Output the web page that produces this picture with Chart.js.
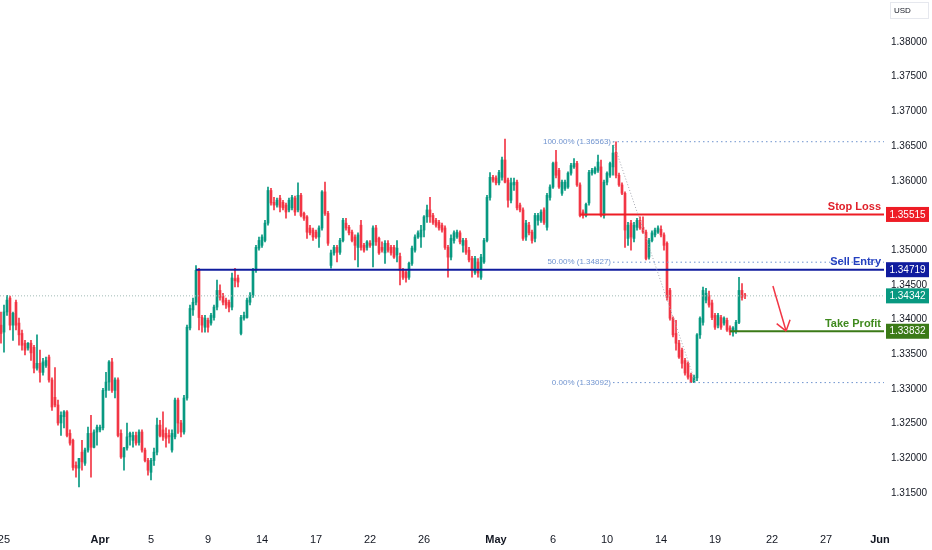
<!DOCTYPE html>
<html>
<head>
<meta charset="utf-8">
<title>Price chart</title>
<script src="https://cdn.jsdelivr.net/npm/chart.js@4"></script>
<style>
  html, body { margin: 0; padding: 0; background: #ffffff; }
  #wrap { width: 932px; height: 550px; }
</style>
</head>
<body>
<div id="wrap"><canvas id="priceChart" width="932" height="550"></canvas></div>
<script>
// ===== 4H candles =====

const opens = [
  1.3392,1.3382,1.3411,1.3431,1.3392,1.3425,1.3395,1.3380,1.3366,1.3359,
  1.3366,1.3360,1.3330,1.3337,1.3324,1.3334,1.3346,1.3313,1.3288,1.3277,
  1.3251,1.3260,1.3267,1.3236,1.3226,1.3190,1.3186,1.3209,1.3193,1.3212,
  1.3236,1.3216,1.3238,1.3241,1.3244,1.3298,1.3310,1.3339,1.3298,1.3313,
  1.3236,1.3202,1.3215,1.3231,1.3226,1.3233,1.3223,1.3238,1.3212,1.3197,
  1.3180,1.3197,1.3209,1.3248,1.3241,1.3236,1.3233,1.3212,1.3231,1.3284,
  1.3251,1.3238,1.3287,1.3388,1.3414,1.3425,1.3471,1.3403,1.3389,1.3399,
  1.3395,1.3403,1.3418,1.3442,1.3434,1.3428,1.3425,1.3418,1.3459,1.3460,
  1.3380,1.3402,1.3403,1.3425,1.3435,1.3471,1.3503,1.3507,1.3514,1.3539,
  1.3586,1.3569,1.3565,1.3575,1.3569,1.3565,1.3558,1.3561,1.3575,1.3558,
  1.3579,1.3553,1.3548,1.3532,1.3529,1.3526,1.3519,1.3532,1.3584,1.3553,
  1.3478,1.3496,1.3504,1.3497,1.3514,1.3539,1.3533,1.3526,1.3519,1.3504,
  1.3536,1.3507,1.3504,1.3510,1.3507,1.3532,1.3517,1.3504,1.3496,1.3510,
  1.3504,1.3504,1.3493,1.3491,1.3471,1.3468,1.3461,1.3481,1.3500,1.3519,
  1.3519,1.3529,1.3548,1.3558,1.3550,1.3543,1.3540,1.3536,1.3532,1.3504,
  1.3490,1.3514,1.3519,1.3525,1.3507,1.3514,1.3500,1.3488,1.3468,1.3483,
  1.3461,1.3483,1.3514,1.3576,1.3605,1.3604,1.3597,1.3605,1.3630,1.3601,
  1.3572,1.3594,1.3598,1.3565,1.3558,1.3519,1.3536,1.3526,1.3517,1.3543,
  1.3543,1.3558,1.3533,1.3576,1.3591,1.3627,1.3615,1.3582,1.3589,1.3591,
  1.3611,1.3620,1.3625,1.3594,1.3555,1.3550,1.3568,1.3611,1.3612,1.3615,
  1.3620,1.3550,1.3598,1.3608,1.3620,1.3641,1.3608,1.3594,1.3582,1.3517,
  1.3539,1.3517,1.3533,1.3543,1.3533,1.3526,1.3490,1.3514,1.3522,1.3526,
  1.3530,1.3522,1.3510,1.3442,1.3402,1.3380,1.3366,1.3356,1.3341,1.3337,
  1.3320,1.3310,1.3316,1.3378,1.3396,1.3428,1.3435,1.3424,1.3406,1.3392,
  1.3403,1.3395,1.3399,1.3388,1.3382,1.3383,1.3396,1.3442,1.3435
];
const highs = [
  1.3411,1.3421,1.3435,1.3434,1.3411,1.3428,1.3402,1.3385,1.3370,1.3367,
  1.3370,1.3363,1.3378,1.3356,1.3344,1.3346,1.3349,1.3316,1.3331,1.3284,
  1.3267,1.3269,1.3269,1.3241,1.3228,1.3195,1.3200,1.3226,1.3215,1.3245,
  1.3262,1.3241,1.3248,1.3248,1.3301,1.3324,1.3341,1.3344,1.3316,1.3316,
  1.3241,1.3216,1.3251,1.3238,1.3238,1.3238,1.3241,1.3241,1.3215,1.3200,
  1.3200,1.3215,1.3258,1.3255,1.3267,1.3244,1.3241,1.3241,1.3287,1.3287,
  1.3255,1.3291,1.3392,1.3421,1.3431,1.3478,1.3474,1.3406,1.3406,1.3402,
  1.3409,1.3421,1.3457,1.3450,1.3438,1.3431,1.3428,1.3467,1.3474,1.3464,
  1.3406,1.3411,1.3431,1.3439,1.3474,1.3507,1.3519,1.3522,1.3543,1.3591,
  1.3589,1.3576,1.3575,1.3579,1.3572,1.3568,1.3575,1.3579,1.3578,1.3597,
  1.3582,1.3555,1.3550,1.3536,1.3532,1.3529,1.3535,1.3586,1.3598,1.3556,
  1.3500,1.3507,1.3507,1.3517,1.3546,1.3546,1.3536,1.3529,1.3522,1.3525,
  1.3543,1.3510,1.3514,1.3514,1.3535,1.3536,1.3519,1.3512,1.3514,1.3514,
  1.3507,1.3507,1.3514,1.3496,1.3474,1.3471,1.3483,1.3506,1.3522,1.3528,
  1.3536,1.3550,1.3565,1.3576,1.3553,1.3546,1.3543,1.3539,1.3535,1.3507,
  1.3522,1.3528,1.3529,1.3528,1.3517,1.3517,1.3504,1.3491,1.3491,1.3488,
  1.3494,1.3517,1.3579,1.3612,1.3608,1.3607,1.3615,1.3634,1.3660,1.3604,
  1.3604,1.3604,1.3601,1.3568,1.3561,1.3543,1.3540,1.3529,1.3553,1.3553,
  1.3558,1.3561,1.3582,1.3594,1.3627,1.3644,1.3618,1.3601,1.3601,1.3613,
  1.3625,1.3632,1.3628,1.3597,1.3558,1.3568,1.3615,1.3618,1.3620,1.3637,
  1.3630,1.3601,1.3613,1.3627,1.3651,1.3656,1.3611,1.3597,1.3584,1.3540,
  1.3543,1.3540,1.3546,1.3548,1.3548,1.3529,1.3517,1.3528,1.3532,1.3535,
  1.3535,1.3525,1.3512,1.3445,1.3404,1.3399,1.3370,1.3359,1.3344,1.3339,
  1.3323,1.3320,1.3380,1.3404,1.3447,1.3445,1.3441,1.3428,1.3409,1.3409,
  1.3406,1.3404,1.3402,1.3391,1.3390,1.3399,1.3461,1.3452,1.3438
];
const lows = [
  1.3366,1.3353,1.3406,1.3385,1.3370,1.3385,1.3363,1.3356,1.3349,1.3356,
  1.3341,1.3323,1.3327,1.3310,1.3320,1.3331,1.3310,1.3269,1.3274,1.3248,
  1.3233,1.3244,1.3231,1.3219,1.3183,1.3173,1.3159,1.3183,1.3190,1.3209,
  1.3173,1.3215,1.3219,1.3238,1.3241,1.3288,1.3298,1.3295,1.3287,1.3231,
  1.3200,1.3183,1.3212,1.3219,1.3216,1.3219,1.3219,1.3209,1.3195,1.3176,
  1.3169,1.3190,1.3205,1.3231,1.3226,1.3216,1.3222,1.3209,1.3228,1.3236,
  1.3231,1.3235,1.3284,1.3385,1.3406,1.3421,1.3385,1.3382,1.3382,1.3382,
  1.3392,1.3399,1.3414,1.3428,1.3421,1.3416,1.3411,1.3414,1.3447,1.3447,
  1.3378,1.3399,1.3402,1.3421,1.3432,1.3468,1.3500,1.3504,1.3512,1.3536,
  1.3565,1.3558,1.3562,1.3555,1.3558,1.3546,1.3555,1.3558,1.3550,1.3555,
  1.3548,1.3543,1.3517,1.3522,1.3514,1.3517,1.3504,1.3529,1.3550,1.3507,
  1.3474,1.3493,1.3483,1.3494,1.3512,1.3529,1.3522,1.3512,1.3486,1.3476,
  1.3500,1.3497,1.3500,1.3504,1.3476,1.3507,1.3494,1.3497,1.3481,1.3497,
  1.3493,1.3488,1.3483,1.3450,1.3458,1.3454,1.3458,1.3478,1.3497,1.3517,
  1.3504,1.3519,1.3540,1.3540,1.3537,1.3533,1.3529,1.3526,1.3501,1.3461,
  1.3486,1.3510,1.3517,1.3509,1.3497,1.3494,1.3483,1.3461,1.3465,1.3461,
  1.3458,1.3481,1.3512,1.3572,1.3598,1.3594,1.3594,1.3601,1.3597,1.3562,
  1.3568,1.3586,1.3558,1.3555,1.3514,1.3514,1.3522,1.3510,1.3512,1.3536,
  1.3540,1.3537,1.3529,1.3572,1.3589,1.3604,1.3589,1.3579,1.3586,1.3589,
  1.3608,1.3618,1.3592,1.3548,1.3546,1.3548,1.3565,1.3608,1.3610,1.3612,
  1.3548,1.3546,1.3594,1.3605,1.3608,1.3604,1.3592,1.3580,1.3504,1.3507,
  1.3500,1.3512,1.3529,1.3530,1.3524,1.3486,1.3487,1.3512,1.3519,1.3524,
  1.3519,1.3500,1.3428,1.3399,1.3375,1.3356,1.3344,1.3330,1.3320,1.3314,
  1.3309,1.3309,1.3312,1.3373,1.3392,1.3424,1.3418,1.3400,1.3386,1.3388,
  1.3386,1.3392,1.3383,1.3378,1.3376,1.3380,1.3394,1.3428,1.3430
];
const closes = [
  1.3380,1.3411,1.3428,1.3392,1.3409,1.3392,1.3378,1.3363,1.3356,1.3366,
  1.3352,1.3330,1.3337,1.3324,1.3339,1.3341,1.3313,1.3274,1.3277,1.3251,
  1.3262,1.3267,1.3233,1.3222,1.3187,1.3186,1.3200,1.3195,1.3212,1.3236,
  1.3216,1.3238,1.3245,1.3245,1.3298,1.3310,1.3339,1.3298,1.3313,1.3233,
  1.3202,1.3215,1.3231,1.3236,1.3233,1.3222,1.3238,1.3212,1.3197,1.3183,
  1.3197,1.3209,1.3248,1.3233,1.3231,1.3229,1.3231,1.3236,1.3284,1.3251,
  1.3238,1.3287,1.3389,1.3416,1.3425,1.3471,1.3403,1.3392,1.3402,1.3389,
  1.3406,1.3418,1.3442,1.3432,1.3425,1.3421,1.3418,1.3460,1.3456,1.3454,
  1.3403,1.3406,1.3428,1.3435,1.3471,1.3504,1.3514,1.3519,1.3539,1.3586,
  1.3568,1.3565,1.3572,1.3562,1.3561,1.3555,1.3572,1.3576,1.3555,1.3579,
  1.3550,1.3546,1.3526,1.3525,1.3519,1.3519,1.3532,1.3584,1.3553,1.3510,
  1.3496,1.3504,1.3497,1.3514,1.3543,1.3532,1.3525,1.3514,1.3507,1.3522,
  1.3504,1.3500,1.3512,1.3507,1.3532,1.3512,1.3496,1.3500,1.3510,1.3500,
  1.3496,1.3490,1.3503,1.3471,1.3461,1.3460,1.3481,1.3503,1.3519,1.3525,
  1.3529,1.3548,1.3558,1.3548,1.3540,1.3536,1.3532,1.3529,1.3504,1.3490,
  1.3517,1.3525,1.3526,1.3512,1.3514,1.3497,1.3486,1.3471,1.3488,1.3467,
  1.3490,1.3514,1.3576,1.3605,1.3601,1.3597,1.3612,1.3630,1.3598,1.3572,
  1.3597,1.3598,1.3561,1.3558,1.3517,1.3539,1.3525,1.3514,1.3550,1.3550,
  1.3555,1.3540,1.3579,1.3591,1.3625,1.3608,1.3591,1.3598,1.3598,1.3611,
  1.3622,1.3625,1.3594,1.3550,1.3550,1.3566,1.3612,1.3615,1.3618,1.3627,
  1.3550,1.3598,1.3611,1.3625,1.3640,1.3608,1.3594,1.3582,1.3529,1.3536,
  1.3519,1.3536,1.3543,1.3532,1.3526,1.3488,1.3514,1.3525,1.3529,1.3532,
  1.3522,1.3507,1.3432,1.3402,1.3378,1.3366,1.3346,1.3337,1.3323,1.3317,
  1.3310,1.3317,1.3378,1.3402,1.3442,1.3438,1.3421,1.3403,1.3389,1.3406,
  1.3389,1.3402,1.3385,1.3382,1.3388,1.3396,1.3442,1.3432,1.3434
];

// x axis: candle index of each date label
const xTickPos = [1, 33, 50, 69, 87, 105, 123, 141, 165, 184, 202, 220, 238, 257, 275, 293];
const xTickLabels = ["25", "Apr", "5", "9", "14", "17", "22", "26", "May", "6", "10", "14", "19", "22", "27", "Jun"];
const monthLabels = ["Apr", "May", "Jun"];

// y axis ticks (1.35500 sits under the stop loss tag)
const yTickValues = [1.315, 1.32, 1.325, 1.33, 1.335, 1.34, 1.345, 1.35, 1.36, 1.365, 1.37, 1.375, 1.38];

// trade levels
const levelNames = ["Stop Loss", "Sell Entry", "Take Profit"];
const levelPrices = [1.35515, 1.34719, 1.33832];
const levelStart = [193, 65, 243];

// fibonacci retracement
const fibLabels = ["100.00% (1.36563)", "50.00% (1.34827)", "0.00% (1.33092)"];
const fibPrices = [1.36563, 1.34827, 1.33092];
const fibStart = 204;
const fibSwing = [{ x: 204, y: 1.36563 }, { x: 231.5, y: 1.33092 }];

const lastPrice = 1.34342;
const arrowPath = [{ x: 257.3, y: 1.34484 }, { x: 261.7, y: 1.33835 }];

// ----- styles -----
const FONT = '"Liberation Sans", Roboto, Arial, sans-serif';
const UP = "#089981";
const DOWN = "#f23645";
const levelColors = ["#ee1c25", "#101c9e", "#3b7a17"];
const levelTextColors = ["#e0202a", "#2440c0", "#3f8a1e"];
const FIB_COLOR = "#6f93cf";
const X_MIN = -0.33, X_MAX = 294.33;
const Y_MIN = 1.30997, Y_MAX = 1.38605;

Chart.defaults.font.family = FONT;

function hLine(price, from, color, width, dash) {
  return {
    type: "line",
    data: [{ x: from, y: price }, { x: X_MAX, y: price }],
    borderColor: color,
    borderWidth: width,
    borderDash: dash || [],
    pointRadius: 0,
    order: -1
  };
}

const candleColor = (ctx) =>
  closes[ctx.dataIndex] >= opens[ctx.dataIndex] ? UP : DOWN;

const lineSets = [
  hLine(lastPrice, X_MIN, "#9fb9b5", 1, [1, 2]),
  ...fibPrices.map((p) => hLine(p, fibStart, FIB_COLOR, 1, [1.5, 3])),
  {
    type: "line", data: fibSwing, borderColor: "#a3a6af", borderWidth: 1,
    borderDash: [1, 2], pointRadius: 0, order: -1
  },
  ...levelPrices.map((p, i) => hLine(p, levelStart[i], levelColors[i], 2)),
  {
    type: "line", data: arrowPath, borderColor: DOWN, borderWidth: 1.5,
    pointRadius: 0, order: -2
  }
];

// labels, arrow head, price tags
const overlay = {
  id: "overlay",
  afterDatasetsDraw(chart) {
    const { ctx, chartArea: area, scales: { x, y } } = chart;
    ctx.save();
    ctx.textAlign = "right";

    ctx.font = "8px " + FONT;
    ctx.fillStyle = FIB_COLOR;
    ctx.textBaseline = "middle";
    fibPrices.forEach((p, i) => {
      ctx.fillText(fibLabels[i], x.getPixelForValue(fibStart) - 2, y.getPixelForValue(p));
    });

    ctx.font = "bold 11px " + FONT;
    ctx.textBaseline = "bottom";
    levelNames.forEach((name, i) => {
      ctx.fillStyle = levelTextColors[i];
      ctx.fillText(name, area.right - 3, y.getPixelForValue(levelPrices[i]) - 2);
    });

    // arrow head
    const x0 = x.getPixelForValue(arrowPath[0].x), y0 = y.getPixelForValue(arrowPath[0].y);
    const x1 = x.getPixelForValue(arrowPath[1].x), y1 = y.getPixelForValue(arrowPath[1].y);
    const ang = Math.atan2(y1 - y0, x1 - x0);
    ctx.strokeStyle = DOWN;
    ctx.lineWidth = 1.5;
    ctx.beginPath();
    [0.62, -0.62].forEach((d) => {
      ctx.moveTo(x1, y1);
      ctx.lineTo(x1 - 12 * Math.cos(ang + d), y1 - 12 * Math.sin(ang + d));
    });
    ctx.stroke();
    ctx.restore();
  },
  afterDraw(chart) {
    const { ctx, chartArea: area, scales: { y } } = chart;
    ctx.save();
    const tags = [
      [levelPrices[0], levelColors[0]],
      [levelPrices[1], levelColors[1]],
      [lastPrice, UP],
      [levelPrices[2], levelColors[2]]
    ];
    ctx.font = "10px " + FONT;
    ctx.textAlign = "center";
    ctx.textBaseline = "middle";
    tags.forEach(([p, c]) => {
      const py = y.getPixelForValue(p);
      ctx.fillStyle = c;
      ctx.fillRect(area.right + 2, py - 7.5, 43, 15);
      ctx.fillStyle = "#ffffff";
      ctx.fillText(p.toFixed(5), area.right + 23.5, py + 0.5);
    });

    // currency tag
    ctx.fillStyle = "#ffffff";
    ctx.strokeStyle = "#e6e8ee";
    ctx.lineWidth = 1;
    ctx.fillRect(890.5, 2.5, 38, 16);
    ctx.strokeRect(890.5, 2.5, 38, 16);
    ctx.fillStyle = "#131722";
    ctx.font = "8px " + FONT;
    ctx.textAlign = "left";
    ctx.fillText("USD", 894, 11);
    ctx.restore();
  }
};

const ctx = document.getElementById("priceChart").getContext("2d");
new Chart(ctx, {
  type: "bar",
  data: {
    datasets: [
      {
        label: "body",
        data: opens.map((o, i) => ({ x: i, y: [o, closes[i]] })),
        backgroundColor: candleColor,
        barThickness: 2,
        minBarLength: 1,
        grouped: false,
        order: 0
      },
      {
        label: "wick",
        data: lows.map((l, i) => ({ x: i, y: [l, highs[i]] })),
        backgroundColor: candleColor,
        barThickness: 1,
        grouped: false,
        order: 1
      },
      ...lineSets
    ]
  },
  options: {
    responsive: false,
    animation: false,
    layout: { padding: 0 },
    plugins: { legend: { display: false }, tooltip: { enabled: false } },
    scales: {
      x: {
        type: "linear",
        min: X_MIN,
        max: X_MAX,
        offset: false,
        grid: { display: false, drawTicks: false },
        border: { display: false },
        afterBuildTicks: (s) => { s.ticks = xTickPos.map((v) => ({ value: v })); },
        afterFit: (s) => {
          s.height = 22;
          s.paddingLeft = 0; s.paddingRight = 0;
        },
        ticks: {
          autoSkip: false,
          maxRotation: 0,
          padding: 5,
          color: "#131722",
          font: (c) => ({
            size: 11,
            weight: c.tick && monthLabels.includes(c.tick.label) ? "bold" : "normal"
          }),
          callback: (v, i) => xTickLabels[i]
        }
      },
      y: {
        type: "linear",
        position: "right",
        min: Y_MIN,
        max: Y_MAX,
        grid: { display: false, drawTicks: false },
        border: { display: false },
        afterBuildTicks: (s) => { s.ticks = yTickValues.map((v) => ({ value: v })); },
        afterFit: (s) => {
          s.width = 48;
          s.paddingTop = 0; s.paddingBottom = 0;
        },
        ticks: {
          padding: 7,
          color: "#131722",
          font: { size: 10 },
          callback: (v) => v.toFixed(5)
        }
      }
    }
  },
  plugins: [overlay]
});
</script>
</body>
</html>
